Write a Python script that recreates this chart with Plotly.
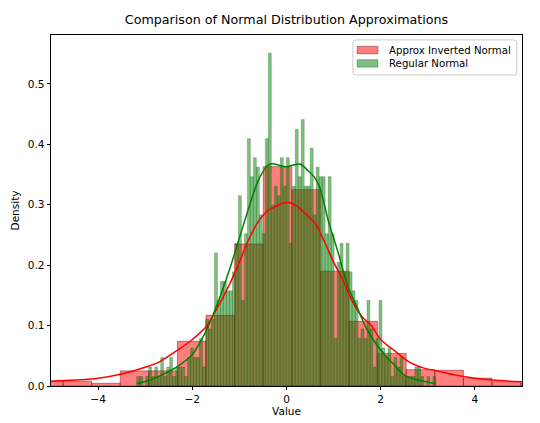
import plotly.graph_objects as go
import numpy as np

# red histogram: wide bins, density values
red_start = -5.35
red_width = 0.607
red_density = [0.008, 0.008, 0.0045, 0.025, 0.025, 0.074, 0.117, 0.235, 0.363,
               0.325, 0.19, 0.107, 0.054, 0.027, 0.026, 0.013, 0.007, 0.004]

# green histogram: 100 narrow bins, counts out of 1000 samples
green_start = -3.18
green_width = 0.0635
n_samples = 1000
green_counts = [1, 1, 0, 1, 2, 1, 2, 1, 3, 1,
                2, 3, 1, 2, 2, 2, 1, 3, 4, 3,
                3, 5, 2, 7, 6, 7, 14, 9, 11, 11,
                10, 10, 12, 15, 20, 9, 16, 26, 22, 24,
                23, 18, 16, 26, 35, 19, 21, 20, 24, 21,
                24, 15, 21, 27, 22, 28, 21, 21, 25, 18,
                23, 22, 22, 16, 22, 16, 5, 13, 15, 12,
                15, 12, 10, 9, 5, 6, 5, 9, 6, 2,
                5, 9, 4, 3, 4, 1, 3, 2, 3, 1,
                1, 1, 1, 2, 2, 1, 0, 1, 0, 1]

# kde curves
red_kde_x = [-5.0, -4.5, -4.0, -3.5, -3.0, -2.7, -2.3, -2.0, -1.7, -1.5, -1.2, -1.0,
             -0.8, -0.6, -0.4, -0.2, 0.0, 0.2, 0.4, 0.6, 0.8, 1.0, 1.2, 1.4, 1.6,
             1.8, 2.0, 2.3, 2.6, 2.9, 3.2, 3.6, 4.0, 4.5, 5.0]
red_kde_y = [0.008, 0.01, 0.013, 0.02, 0.031, 0.04, 0.06, 0.077, 0.099, 0.125, 0.17, 0.205,
             0.243, 0.272, 0.29, 0.298, 0.304, 0.299, 0.285, 0.27, 0.24, 0.205, 0.175, 0.14, 0.115,
             0.1, 0.077, 0.058, 0.04, 0.03, 0.025, 0.018, 0.013, 0.009, 0.007]

green_kde_x = [-3.18, -2.9, -2.6, -2.3, -2.0, -1.8, -1.6, -1.4, -1.2, -1.0, -0.8, -0.6,
               -0.4, -0.3, -0.1, 0.0, 0.15, 0.3, 0.45, 0.6, 0.7, 0.9, 1.1, 1.3, 1.5,
               1.7, 1.9, 2.1, 2.3, 2.5, 2.7, 2.9, 3.17]
green_kde_y = [0.004, 0.01, 0.02, 0.033, 0.052, 0.077, 0.11, 0.15, 0.195, 0.245, 0.295, 0.34,
               0.365, 0.368, 0.364, 0.363, 0.366, 0.367, 0.357, 0.345, 0.33, 0.27, 0.22, 0.165, 0.13,
               0.095, 0.07, 0.05, 0.034, 0.018, 0.012, 0.008, 0.004]

series_names = ["Approx Inverted Normal", "Regular Normal"]

red_x = red_start + red_width * (np.arange(len(red_density)) + 0.5)
green_x = green_start + green_width * (np.arange(len(green_counts)) + 0.5)
green_density = np.array(green_counts) / (n_samples * green_width)

font = "DejaVu Sans"
red_fill, red_edge = "rgba(255,0,0,0.5)", "rgba(120,0,0,0.55)"
green_fill, green_edge = "rgba(0,128,0,0.5)", "rgba(0,70,0,0.45)"

fig = go.Figure()
fig.add_trace(go.Bar(x=red_x, y=red_density, width=red_width, name=series_names[0],
                     marker=dict(color=red_fill, line=dict(color=red_edge, width=0.8)),
                     hoverinfo="skip"))
fig.add_trace(go.Bar(x=green_x, y=green_density, width=green_width, name=series_names[1],
                     marker=dict(color=green_fill, line=dict(color=green_edge, width=0.5)),
                     hoverinfo="skip"))
fig.add_trace(go.Scatter(x=red_kde_x, y=red_kde_y, mode="lines", line_shape="spline",
                         line=dict(color="red", width=1.5)))
fig.add_trace(go.Scatter(x=green_kde_x, y=green_kde_y, mode="lines", line_shape="spline",
                         line=dict(color="green", width=1.5)))

# matplotlib-style legend box, drawn in paper coordinates
plot_w, plot_h = 471, 351


def rounded_box(x0, y0, x1, y1, r=3):
    rx, ry = r / plot_w, r / plot_h
    return (f"M {x0 + rx},{y0} L {x1 - rx},{y0} Q {x1},{y0} {x1},{y0 + ry} "
            f"L {x1},{y1 - ry} Q {x1},{y1} {x1 - rx},{y1} L {x0 + rx},{y1} "
            f"Q {x0},{y1} {x0},{y1 - ry} L {x0},{y0 + ry} Q {x0},{y0} {x0 + rx},{y0} Z")


fig.add_shape(type="path", xref="paper", yref="paper",
              path=rounded_box(0.641, 0.886, 0.989, 0.986),
              fillcolor="rgba(255,255,255,0.8)", line=dict(color="#cccccc", width=1))
legend_rows = [(0.957, red_fill, red_edge), (0.919, green_fill, green_edge)]
for name, (yc, fill, edge) in zip(series_names, legend_rows):
    fig.add_shape(type="rect", xref="paper", yref="paper",
                  x0=0.650, x1=0.694, y0=yc - 0.0105, y1=yc + 0.0105,
                  fillcolor=fill, line=dict(color=edge, width=0.8))
    fig.add_annotation(text=name, xref="paper", yref="paper", x=0.713, y=yc,
                       xanchor="left", yanchor="middle", showarrow=False,
                       font=dict(family=font, size=10.2, color="black"))

axis_common = dict(showline=True, linecolor="black", linewidth=0.8, mirror=True,
                   ticks="outside", ticklen=3.5, tickwidth=0.8, tickcolor="black",
                   showgrid=False, zeroline=False, automargin=False,
                   tickfont=dict(family=font, size=10.5, color="black"))

# page has an 8px body margin, so the figure is a bit smaller than the window
fig.update_layout(
    width=532, height=415,
    margin=dict(l=43, r=18, t=27, b=37),
    plot_bgcolor="white", paper_bgcolor="white",
    barmode="overlay",
    showlegend=False,
    font=dict(family=font, color="black"),
    title=dict(text="Comparison of Normal Distribution Approximations",
               font=dict(family=font, size=12.7, color="black"),
               x=0.5, xref="paper", xanchor="center", y=0.971, yanchor="middle"),
    xaxis=dict(range=[-5, 5], tickvals=[-4, -2, 0, 2, 4],
               title=dict(text="Value", font=dict(family=font, size=10.5), standoff=3),
               **axis_common),
    yaxis=dict(range=[0, 0.581], tickvals=[0, 0.1, 0.2, 0.3, 0.4, 0.5], tickformat=".1f",
               title=dict(text="Density", font=dict(family=font, size=10.5), standoff=6),
               **axis_common),
)

fig.write_html("out.html")
